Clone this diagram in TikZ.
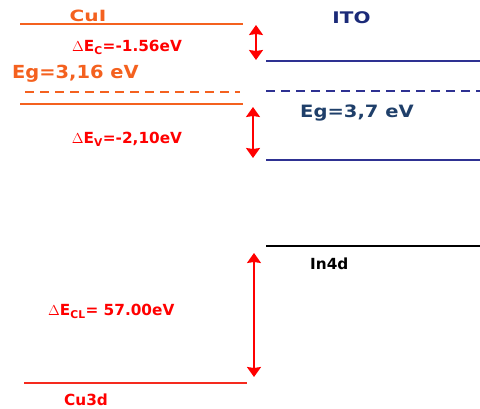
\documentclass[tikz,border=0pt]{standalone}
\usepackage{fontspec}
\setmainfont{DejaVu Sans}
\usetikzlibrary{positioning,arrows.meta,calc}
\definecolor{cuiorange}{HTML}{F4611F}
\definecolor{lvlred}{HTML}{F52A1E}
\definecolor{itoblue}{HTML}{2E3192}
\definecolor{itonavy}{HTML}{1B2A78}
\definecolor{egblue}{HTML}{1F3F6A}
\newcommand{\wide}[2]{\scalebox{#1}[1]{#2}}
\tikzset{
  cuilvl/.style={line width=1.2pt,cuiorange},
  itolvl/.style={line width=1.2pt,itoblue},
  corelvl/.style={line width=1.2pt},
  offset/.style={{Stealth[length=10pt,width=14pt,inset=1pt]}-{Stealth[length=10pt,width=14pt,inset=1pt]},line width=1.7pt,red},
  redlbl/.style={font=\bfseries\fontsize{15.3}{17}\selectfont,text=red,inner sep=0pt},
  ttl/.style={font=\bfseries\fontsize{15.5}{17}\selectfont,inner sep=0pt},
  eglbl/.style={font=\bfseries\fontsize{17}{19}\selectfont,inner sep=0pt},
}
\begin{document}
\begin{tikzpicture}[x=1pt,y=-1pt]
  \useasboundingbox (0,0) rectangle (480,408);
  % CuI side
  \draw[cuilvl] (20,24) coordinate (cuic1) -- (243,24) coordinate (cuic);
  \draw[cuilvl,dash pattern=on 9pt off 6pt] (25,92) -- (240,92);
  \draw[cuilvl] (20,104) coordinate (cuiv1) -- (243,104) coordinate (cuiv);
  \draw[corelvl,lvlred] (24,383) -- (247,383) coordinate (cu3d);
  \node[ttl,text=cuiorange] (cuilbl) at (88,16) {\wide{1.3}{CuI}};
  \node[eglbl,text=cuiorange,anchor=west,font=\bfseries\fontsize{18}{20}\selectfont] (egcui) at (12,74) {\wide{1.08}{Eg=3,16 eV}};
  \node[redlbl] (dec) at (127,47) {$\Delta$E\textsubscript{C}=-1.56eV};
  \node[redlbl] (dev) at (127,139) {$\Delta$E\textsubscript{V}=-2,10eV};
  \node[redlbl,anchor=west] (decl) at (48,311) {$\Delta$E\textsubscript{CL}= 57.00eV};
  \node[redlbl,anchor=west] (cu3dlbl) at (64,400) {Cu3d};
  % ITO side
  \draw[itolvl] (266,61) coordinate (itoc) -- (480,61);
  \draw[itolvl,dash pattern=on 9pt off 6pt] (266,91) -- (480,91);
  \draw[itolvl] (266,160) coordinate (itov) -- (480,160);
  \draw[corelvl,black] (266,246) coordinate (in4d) -- (480,246);
  \node[ttl,text=itonavy,font=\bfseries\fontsize{16}{18}\selectfont] (itolbl) at (351.5,17.5) {\wide{1.25}{ITO}};
  \node[eglbl,text=egblue] (egito) at (357,113) {\wide{1.15}{Eg=3,7 eV}};
  \node[redlbl,text=black,anchor=west] (in4dlbl) at (310,264) {In4d};
  % band offsets
  \coordinate (a1) at (256,25);  \coordinate (b1) at (256,60);
  \coordinate (a2) at (253,107); \coordinate (b2) at (253,158);
  \coordinate (a3) at (254,253); \coordinate (b3) at (254,377);
  \draw[offset] (a1) -- (b1);
  \draw[offset] (a2) -- (b2);
  \draw[offset] (a3) -- (b3);
\end{tikzpicture}
\end{document}
